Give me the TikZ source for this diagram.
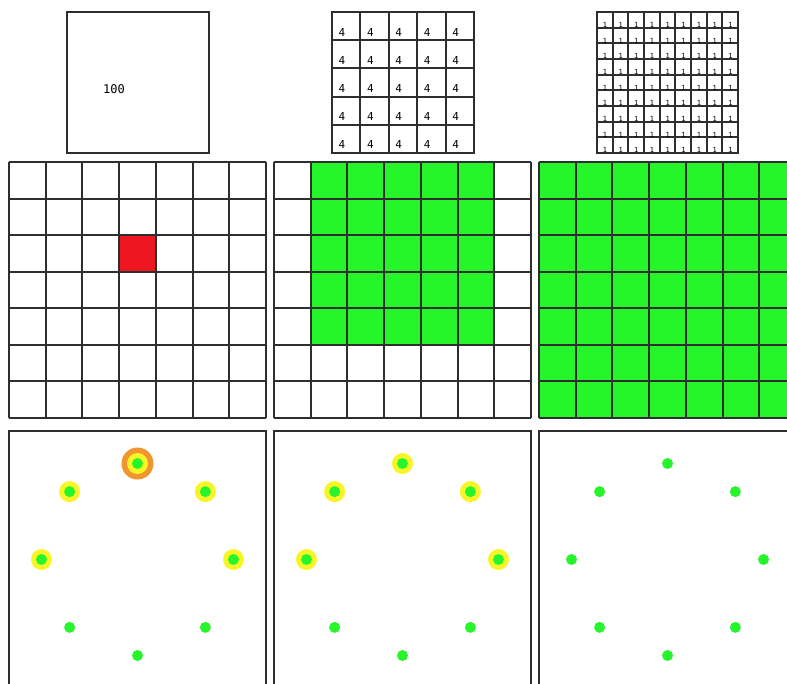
\documentclass[tikz,border=0pt]{standalone}
\usepackage{fontspec}
\newfontfamily\digitfont{DejaVu Sans Mono}
\definecolor{leaf}{HTML}{27F52C}
\definecolor{hot}{HTML}{EE1620}
\definecolor{halo}{HTML}{F8F526}
\definecolor{amber}{HTML}{F0952F}
\definecolor{ink}{HTML}{2E2E2E}
\newcommand\gridcols{0,37,73,110,147,184,220,257}
\newcommand\gridrows{0,37,73,110,146,183,219,256}
\tikzset{box/.style={draw=ink,line width=1.5pt},
  cell/.style={draw=ink,line width=2pt},
  lbl/.style={font=\digitfont\fontsize{11}{11}\selectfont,inner sep=0pt},
  tiny/.style={font=\digitfont\fontsize{7}{7}\selectfont,inner sep=0pt},
  dot/.style={circle,fill=leaf,minimum size=11pt,inner sep=0pt},
  ring/.style={circle,fill=halo,minimum size=21pt,inner sep=0pt},
  outer/.style={circle,fill=amber,minimum size=32pt,inner sep=0pt}}
\begin{document}
\begin{tikzpicture}[x=1pt,y=-1pt]
\useasboundingbox (0,0) rectangle (787,684);
\clip (0,0) rectangle (787,684);
% top row
\draw[box] (67,12) rectangle (209,153);
\node[lbl,font=\digitfont\fontsize{12}{12}\selectfont] (total) at (114,89) {100};
\draw[box] (332,12) rectangle (474,153);
\foreach \x in {360,389,417,446} \draw[box] (\x,12) -- (\x,153);
\foreach \y in {40,68,97,125} \draw[box] (332,\y) -- (474,\y);
\foreach \i in {0,...,4}\foreach \j in {0,...,4}
  \node[lbl] (four-\i-\j) at (342+\i*28.4,32+\j*28.2) {4};
\draw[box] (597,12) rectangle (738,153);
\foreach \x in {613,628,644,660,675,691,707,722} \draw[box] (\x,12) -- (\x,153);
\foreach \y in {28,43,59,75,90,106,122,137} \draw[box] (597,\y) -- (738,\y);
\foreach \i in {0,...,8}\foreach \j in {0,...,8}
  \node[tiny] (one-\i-\j) at (605+\i*15.67,25+\j*15.67) {1};
% middle row
\begin{scope}[shift={(9,162)}]
\fill[hot] (110,73) rectangle (147,110);
\foreach \x in \gridcols \draw[cell] (\x,0) -- (\x,256);
\foreach \y in \gridrows \draw[cell] (0,\y) -- (257,\y);
\end{scope}
\begin{scope}[shift={(274,162)}]
\fill[leaf] (37,0) rectangle (220,183);
\foreach \x in \gridcols \draw[cell] (\x,0) -- (\x,256);
\foreach \y in \gridrows \draw[cell] (0,\y) -- (257,\y);
\end{scope}
\begin{scope}[shift={(539,162)}]
\fill[leaf] (0,0) rectangle (257,256);
\foreach \x in \gridcols \draw[cell] (\x,0) -- (\x,256);
\foreach \y in \gridrows \draw[cell] (0,\y) -- (257,\y);
\end{scope}
% bottom row
\draw[box] (9,431) rectangle (266,688);
\draw[box] (274,431) rectangle (531,688);
\draw[box] (539,431) rectangle (796,688);
\begin{scope}[shift={(137.5,559.5)}]
\node[outer] (peak) at (270:96) {};
\foreach \a in {180,225,270,315,0} \node[ring] (glow-a\a) at (\a:96) {};
\foreach \a in {0,45,...,315} \node[dot] (pt-a\a) at (\a:96) {};
\end{scope}
\begin{scope}[shift={(402.5,559.5)}]
\foreach \a in {180,225,270,315,0} \node[ring] (glow-b\a) at (\a:96) {};
\foreach \a in {0,45,...,315} \node[dot] (pt-b\a) at (\a:96) {};
\end{scope}
\begin{scope}[shift={(667.5,559.5)}]
\foreach \a in {0,45,...,315} \node[dot] (pt-c\a) at (\a:96) {};
\end{scope}
\end{tikzpicture}
\end{document}
